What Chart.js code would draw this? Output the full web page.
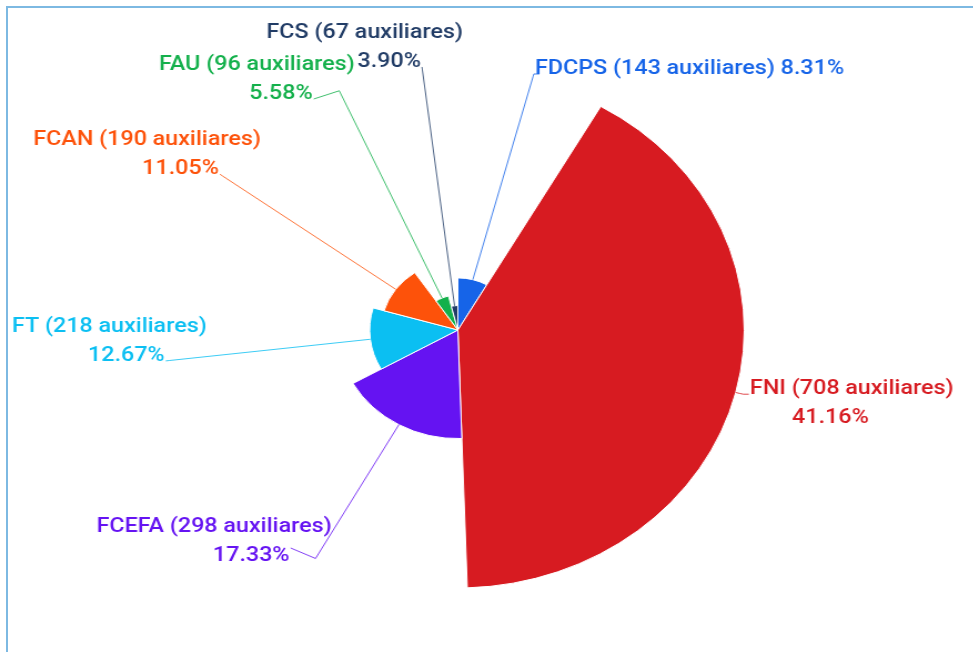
<!DOCTYPE html>
<html>
<head>
<meta charset="utf-8">
<script src="https://cdn.jsdelivr.net/npm/chart.js@4.4.1/dist/chart.umd.min.js"></script>
<style>
  html, body { margin: 0; padding: 0; background: #fff; overflow: hidden; }
  #frame { position: absolute; left: 6px; top: 6px; width: 1000px; height: 700px;
           border: 2px solid #7db9e2; box-sizing: border-box; }
  /* the reference picture is stretched horizontally, so is this */
  #wrap { position: absolute; left: 0; top: 0; width: 877px; height: 652px;
          transform: scaleX(1.11); transform-origin: 0 0; }
</style>
</head>
<body>
<div id="frame"></div>
<div id="wrap"><canvas id="pie" width="877" height="652"></canvas></div>
<script>
const categories = ['FDCPS', 'FNI', 'FCEFA', 'FT', 'FCAN', 'FAU', 'FCS'];
const auxiliares = [143, 708, 298, 218, 190, 96, 67];
const colors = ['#1664e8', '#d71b21', '#6513f2', '#0bbff2', '#fd520a', '#13b04b', '#213c66'];

const MAX_RADIUS = 258;     // radius of the biggest slice
const LABEL_RADIUS = 265;   // where the connectors end
const LABEL_GAP = 32;
const LABEL_BOTTOM = 104;
const FONT = '500 21px Roboto, "Open Sans", sans-serif';

const total = auxiliares.reduce((a, b) => a + b, 0);
const maxValue = Math.max(...auxiliares);

// variable pie: each slice gets a radius that follows its value
const variableRadius = {
  id: 'variableRadius',
  afterDatasetsUpdate(chart) {
    const meta = chart.getDatasetMeta(0);
    meta.data.forEach((arc, i) => {
      arc.outerRadius = MAX_RADIUS * auxiliares[i] / maxValue;
    });
  }
};

const pieLabels = {
  id: 'pieLabels',
  afterDraw(chart) {
    const ctx = chart.ctx;
    const arcs = chart.getDatasetMeta(0).data;
    const cx = arcs[0].x, cy = arcs[0].y;

    const items = arcs.map((arc, i) => {
      const mid = (arc.startAngle + arc.endAngle) / 2;
      const y = cy + LABEL_RADIUS * Math.sin(mid);
      return { i, arc, mid, right: Math.cos(mid) >= 0, y, textY: y };
    });

    // keep labels on one side apart; connectors stay off the bottom
    [true, false].forEach(side => {
      const list = items.filter(o => o.right === side).sort((a, b) => a.y - b.y);
      for (let k = 1; k < list.length; k++) {
        if (list[k].y < list[k - 1].y + LABEL_GAP) list[k].y = list[k - 1].y + LABEL_GAP;
        list[k].textY = list[k].y;
      }
      const maxY = chart.height - LABEL_BOTTOM;
      for (let k = list.length - 1; k >= 0; k--) {
        const lim = k === list.length - 1 ? maxY : list[k + 1].y - LABEL_GAP;
        if (list[k].y > lim) list[k].y = lim;
      }
    });

    ctx.save();
    ctx.font = FONT;
    ctx.textBaseline = 'alphabetic';
    items.forEach(o => {
      const color = colors[o.i];
      const dy = o.y - cy;
      const dx = Math.sqrt(Math.max(0, LABEL_RADIUS * LABEL_RADIUS - dy * dy));
      const x = o.right ? cx + dx : cx - dx;
      const r0 = o.arc.outerRadius;
      const rb = LABEL_RADIUS - 3;

      ctx.strokeStyle = color;
      ctx.globalAlpha = 0.8;
      ctx.lineWidth = 1;
      ctx.beginPath();
      ctx.moveTo(cx + r0 * Math.cos(o.mid), cy + r0 * Math.sin(o.mid));
      ctx.lineTo(cx + rb * Math.cos(o.mid), cy + rb * Math.sin(o.mid));
      ctx.lineTo(x, o.y);
      if (o.right) ctx.lineTo(x + 5, o.y);
      ctx.stroke();
      ctx.globalAlpha = 1;

      const name = categories[o.i] + ' (' + auxiliares[o.i] + ' auxiliares)';
      const pct = (auxiliares[o.i] / total * 100).toFixed(2) + '%';
      const ty = o.textY;
      ctx.fillStyle = color;
      if (o.right) {
        ctx.textAlign = 'left';
        const full = name + ' ' + pct;
        if (ctx.measureText(full).width <= chart.width - x - 10) {
          ctx.fillText(full, x + 1, ty);
        } else {
          ctx.fillText(name, x + 6, ty);
          ctx.fillText(pct, x + 44, ty + 29);
        }
      } else {
        ctx.textAlign = 'right';
        ctx.fillText(pct, x - 1, ty);
        ctx.fillText(name, x + 37, ty - 29);
      }
    });
    ctx.restore();
  }
};

new Chart(document.getElementById('pie'), {
  type: 'pie',
  data: {
    labels: categories,
    datasets: [{
      data: auxiliares,
      backgroundColor: colors,
      borderColor: '#ffffff',
      borderWidth: 1
    }]
  },
  options: {
    responsive: false,
    animation: false,
    events: [],
    layout: { padding: { left: 0, right: 52, top: 8, bottom: 0 } },
    plugins: {
      legend: { display: false },
      tooltip: { enabled: false }
    }
  },
  plugins: [variableRadius, pieLabels]
});
</script>
</body>
</html>
